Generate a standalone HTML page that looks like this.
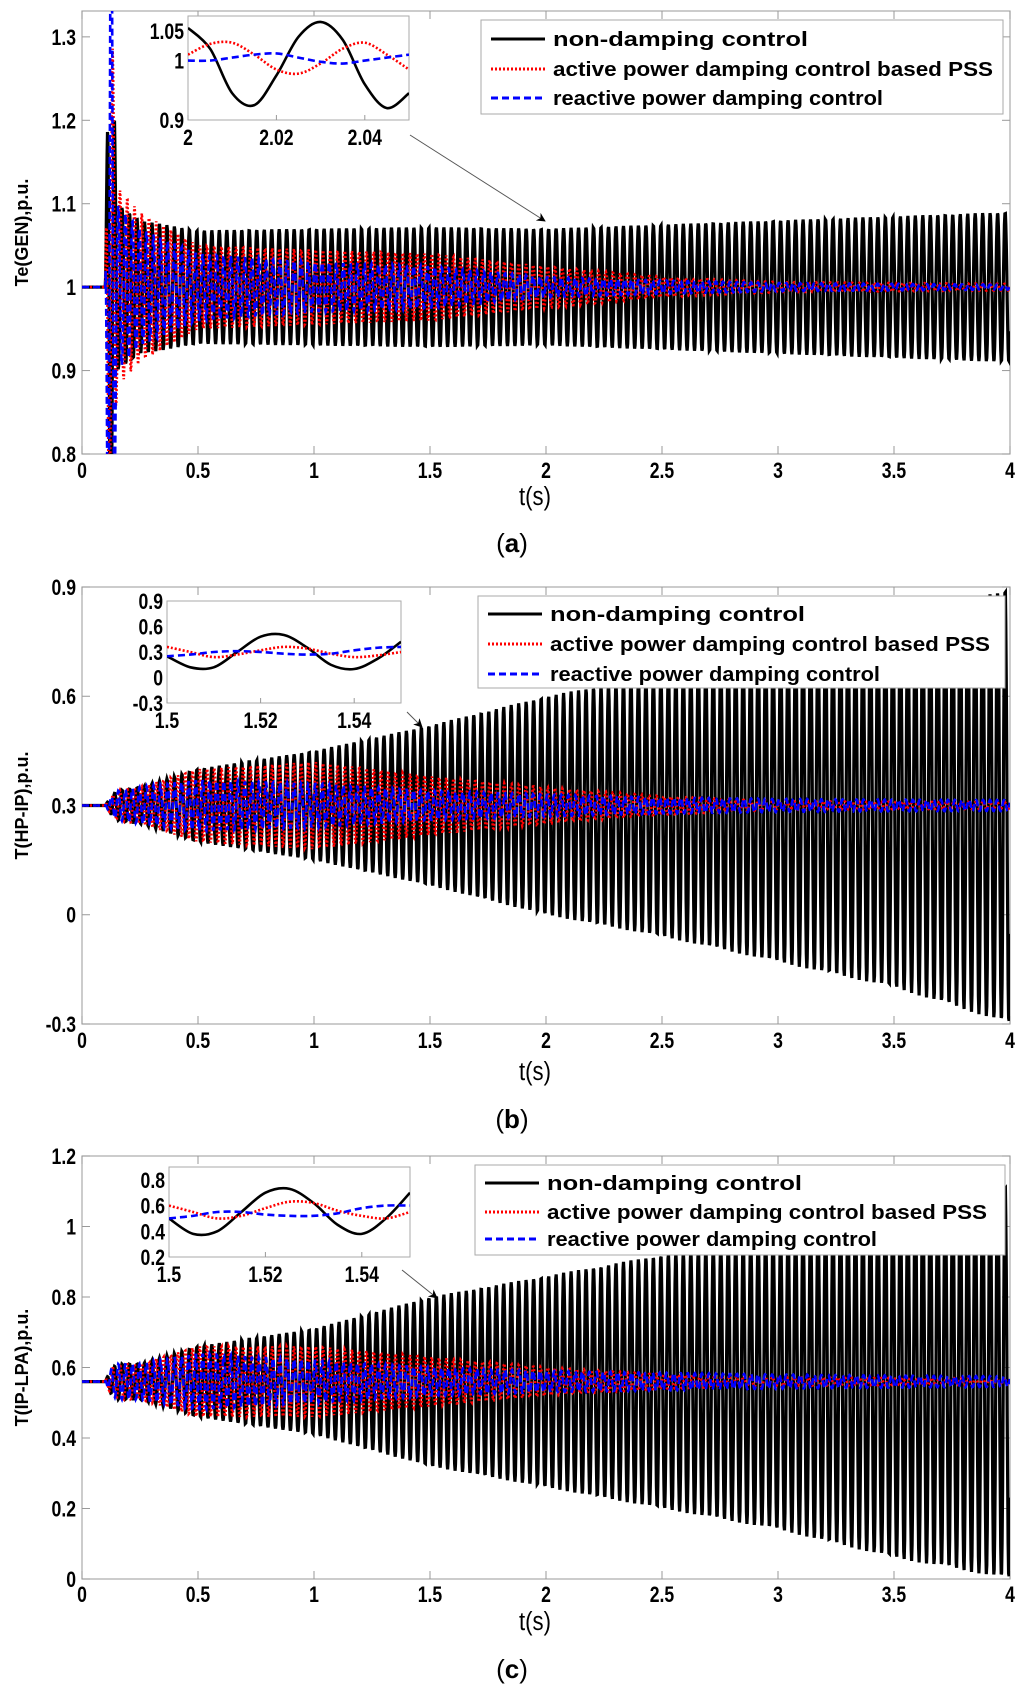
<!DOCTYPE html>
<html><head><meta charset="utf-8"><style>
body{margin:0;background:#fff}
svg{display:block}
text{font-family:"Liberation Sans",sans-serif}
</style></head><body>
<svg id="fig" width="1024" height="1699" viewBox="0 0 1024 1699" xmlns="http://www.w3.org/2000/svg"></svg>
<script>
// ---- data (envelope knots) ----
const knotT = [0, 0.1, 0.12, 0.15, 0.25, 0.5, 1, 1.5, 2, 2.5, 3, 3.5, 4];
const aBlackAmp = [0, 0, 0.4, 0.1, 0.08, 0.068, 0.07, 0.072, 0.07, 0.075, 0.08, 0.085, 0.09];
const aRedAmp   = [0, 0, 0.4, 0.12, 0.09, 0.05, 0.045, 0.04, 0.025, 0.012, 0.006, 0.005, 0.004];
const aBlueAmp  = [0, 0, 0.6, 0.1, 0.07, 0.04, 0.03, 0.025, 0.012, 0.008, 0.005, 0.004, 0.003];
const bBlackAmp = [0, 0, 0.02, 0.04, 0.05, 0.1, 0.15, 0.22, 0.3, 0.36, 0.43, 0.5, 0.6];
const bRedAmp   = [0, 0, 0.02, 0.04, 0.05, 0.1, 0.12, 0.08, 0.05, 0.025, 0.012, 0.01, 0.01];
const bBlueAmp  = [0, 0, 0.02, 0.04, 0.05, 0.07, 0.06, 0.04, 0.03, 0.022, 0.018, 0.016, 0.015];
const cBlackAmp = [0, 0, 0.03, 0.05, 0.05, 0.1, 0.15, 0.24, 0.3, 0.36, 0.42, 0.5, 0.56];
const cRedAmp   = [0, 0, 0.03, 0.05, 0.05, 0.1, 0.1, 0.07, 0.04, 0.02, 0.012, 0.01, 0.01];
const cBlueAmp  = [0, 0, 0.03, 0.05, 0.05, 0.08, 0.06, 0.04, 0.03, 0.025, 0.02, 0.017, 0.015];
const centers = [1.0, 0.3, 0.56];
const xTicks = [0, 0.5, 1, 1.5, 2, 2.5, 3, 3.5, 4];
const xTickLabels = ["0","0.5","1","1.5","2","2.5","3","3.5","4"];
const aYTicks = [0.8, 0.9, 1, 1.1, 1.2, 1.3];
const bYTicks = [-0.3, 0, 0.3, 0.6, 0.9];
const cYTicks = [0, 0.2, 0.4, 0.6, 0.8, 1, 1.2];
// insets: 11 samples each, step 0.005 s
const aInsetBlack = [1.055,1.02,0.945,0.925,0.975,1.04,1.065,1.035,0.96,0.92,0.945];
const aInsetRed   = [1.01,1.028,1.03,1.01,0.985,0.978,0.995,1.02,1.03,1.01,0.985];
const aInsetBlue  = [1.0,1.0,1.005,1.01,1.012,1.005,0.998,0.995,1.0,1.005,1.01];
const bInsetBlack = [0.25,0.12,0.12,0.3,0.48,0.5,0.35,0.15,0.1,0.22,0.42];
const bInsetRed   = [0.36,0.3,0.24,0.27,0.32,0.36,0.34,0.28,0.24,0.26,0.3];
const bInsetBlue  = [0.25,0.27,0.3,0.31,0.3,0.28,0.27,0.28,0.32,0.35,0.36];
const cInsetBlack = [0.5,0.38,0.4,0.55,0.7,0.73,0.62,0.45,0.38,0.5,0.7];
const cInsetRed   = [0.6,0.55,0.5,0.52,0.58,0.63,0.62,0.56,0.52,0.5,0.55];
const cInsetBlue  = [0.5,0.52,0.55,0.55,0.53,0.52,0.52,0.54,0.58,0.6,0.6];
const legendLabels = ["non-damping control","active power  damping control based  PSS","reactive power damping control"];

const NS="http://www.w3.org/2000/svg";
const svg=document.getElementById('fig');
function mk(tag,attrs,parent){const e=document.createElementNS(NS,tag);for(const k in attrs)e.setAttribute(k,attrs[k]);(parent||svg).appendChild(e);return e;}
function interp(arr,t){for(let i=0;i<knotT.length-1;i++){if(t<=knotT[i+1]){const f=(t-knotT[i])/(knotT[i+1]-knotT[i]);return arr[i]+(arr[i+1]-arr[i])*f;}}return arr[arr.length-1];}

const panels=[
 {id:'a',top:11,bot:454,ymin:0.8,ymax:1.331,yt:aYTicks,ylab:'Te(GEN),p.u.',amps:[aBlackAmp,aRedAmp,aBlueAmp],
  inset:{x0:188,x1:409,y0:16,y1:120,xmin:2,ymin:0.9,ymax:1.075,yt:[0.9,1,1.05],ytl:["0.9","1","1.05"],xtl:["2","2.02","2.04"],d:[aInsetBlack,aInsetRed,aInsetBlue]},
  leg:{x0:481,x1:1003,y0:20,y1:114,ys:[39,69,98]},arrow:[410,135,545,221],tickY:478,tsY:505,cap:'a',capY:552},
 {id:'b',top:587,bot:1024,ymin:-0.3,ymax:0.9,yt:bYTicks,ylab:'T(HP-IP),p.u.',amps:[bBlackAmp,bRedAmp,bBlueAmp],
  inset:{x0:167,x1:401,y0:601,y1:703,xmin:1.5,ymin:-0.3,ymax:0.9,yt:[-0.3,0,0.3,0.6,0.9],ytl:["-0.3","0","0.3","0.6","0.9"],xtl:["1.5","1.52","1.54"],d:[bInsetBlack,bInsetRed,bInsetBlue]},
  leg:{x0:478,x1:1005,y0:596,y1:688,ys:[614,644,674]},arrow:[407,712,422,727],tickY:1048,tsY:1080,cap:'b',capY:1128},
 {id:'c',top:1156,bot:1579,ymin:0,ymax:1.2,yt:cYTicks,ylab:'T(IP-LPA),p.u.',amps:[cBlackAmp,cRedAmp,cBlueAmp],
  inset:{x0:169,x1:410,y0:1167,y1:1257,xmin:1.5,ymin:0.2,ymax:0.9,yt:[0.2,0.4,0.6,0.8],ytl:["0.2","0.4","0.6","0.8"],xtl:["1.5","1.52","1.54"],d:[cInsetBlack,cInsetRed,cInsetBlue]},
  leg:{x0:475,x1:1005,y0:1165,y1:1255,ys:[1183,1212,1239]},arrow:[402,1270,437,1298],tickY:1602,tsY:1630,cap:'c',capY:1678}
];
const X0=82,X1=1010;
const colors=['#000','#f00','#00f'];
const dashes=['none','2,2','7,4'];
const widths=[3.2,2.6,2.6];
const freq=[31,32,33],phase=[0,1.3,2.4];
const defs=mk('defs',{});
mk('marker',{id:'ah',viewBox:'0 0 10 10',refX:9,refY:5,markerWidth:9,markerHeight:9,orient:'auto'},defs).appendChild((()=>{const p=document.createElementNS(NS,'path');p.setAttribute('d','M0,0 L10,5 L0,10 L3,5 z');return p;})());

panels.forEach((P,pi)=>{
  const g=mk('g',{});
  
  
  const xs=t=>X0+(t/4)*(X1-X0);
  const ys=v=>P.bot-(v-P.ymin)/(P.ymax-P.ymin)*(P.bot-P.top);
  const cp=mk('clipPath',{id:'clip'+P.id},defs);
  mk('rect',{x:X0,y:P.top,width:X1-X0,height:P.bot-P.top},cp);
  const ax=mk('rect',{x:X0,y:P.top,width:X1-X0,height:P.bot-P.top,fill:'none',stroke:'#aaa','stroke-width':1.2},g);
  
  
  xTicks.forEach((t,i)=>{
    mk('line',{x1:xs(t),x2:xs(t),y1:P.bot,y2:P.bot-8,stroke:'#999'},g);
    mk('line',{x1:xs(t),x2:xs(t),y1:P.top,y2:P.top+8,stroke:'#999'},g);
    const tx=mk('text',{x:xs(t),y:P.tickY,'text-anchor':'middle','font-size':22,'font-weight':'bold',transform:`translate(${xs(t)},0) scale(0.8,1) translate(${-xs(t)},0)`},g);
    tx.textContent=xTickLabels[i];
    
    
  });
  P.yt.forEach(v=>{
    mk('line',{x1:X0,x2:X0+8,y1:ys(v),y2:ys(v),stroke:'#999'},g);
    mk('line',{x1:X1,x2:X1-8,y1:ys(v),y2:ys(v),stroke:'#999'},g);
    const tx=mk('text',{x:X0-6,y:ys(v)+8,'text-anchor':'end','font-size':22,'font-weight':'bold',transform:`translate(${X0-6},0) scale(0.8,1) translate(${-(X0-6)},0)`},g);
    tx.textContent=String(v);
    
    
  });
  const yl=mk('text',{x:0,y:0,'text-anchor':'middle','font-size':18,'font-weight':'bold',transform:`translate(28,${(P.top+P.bot)/2}) rotate(-90)`},g);
  yl.textContent=P.ylab;
  
  
  const xl=mk('text',{x:535,y:P.tsY,'text-anchor':'middle','font-size':26,'font-family':'Liberation Serif',transform:`translate(535,0) scale(0.85,1) translate(-535,0)`},g);
  xl.textContent='t(s)';
  
  
  const cap=mk('text',{x:512,y:P.capY,'text-anchor':'middle','font-size':26,'font-family':'Liberation Serif'},g);
  cap.innerHTML='(<tspan font-weight="bold">'+P.cap+'</tspan>)';
  
  
  const sg=mk('g',{'clip-path':`url(#clip${P.id})`},g);
  [0,1,2].forEach(s=>{
    let pts=[];
    for(let t=0;t<=4.0001;t+=0.002){
      const a=interp(P.amps[s],t);
      const v=centers[pi]+a*Math.sin(2*Math.PI*freq[s]*(t-0.1)+phase[s]);
      pts.push(xs(t).toFixed(1)+','+ys(v).toFixed(1));
    }
    const pl=mk('polyline',{points:pts.join(' '),fill:'none',stroke:colors[s],'stroke-width':widths[s],'stroke-dasharray':dashes[s]},sg);
    
    
  });
  const I=P.inset;
  const ig=mk('g',{},g);
  
  
  mk('rect',{x:I.x0,y:I.y0,width:I.x1-I.x0,height:I.y1-I.y0,fill:'#fff',stroke:'#aaa'},ig);
  const ixs=t=>I.x0+(t-I.xmin)/0.05*(I.x1-I.x0);
  const iys=v=>I.y1-(v-I.ymin)/(I.ymax-I.ymin)*(I.y1-I.y0);
  I.xtl.forEach((l,i)=>{
    const x=ixs(I.xmin+0.02*i);
    mk('line',{x1:x,x2:x,y1:I.y1,y2:I.y1-5,stroke:'#999'},ig);
    const tx=mk('text',{x:x,y:I.y1+25,'text-anchor':'middle','font-size':22,'font-weight':'bold',transform:`translate(${x},0) scale(0.8,1) translate(${-x},0)`},ig);
    tx.textContent=l;
    
    
  });
  I.yt.forEach((v,i)=>{
    const y=iys(v);
    const tx=mk('text',{x:I.x0-4,y:y+8,'text-anchor':'end','font-size':22,'font-weight':'bold',transform:`translate(${I.x0-4},0) scale(0.8,1) translate(${-(I.x0-4)},0)`},ig);
    tx.textContent=I.ytl[i];
    
    
  });
  const icp=mk('clipPath',{id:'iclip'+P.id},defs);
  mk('rect',{x:I.x0,y:I.y0,width:I.x1-I.x0,height:I.y1-I.y0},icp);
  const isg=mk('g',{'clip-path':`url(#iclip${P.id})`},ig);
  [0,1,2].forEach(s=>{
    const arr=I.d[s];let d='';
    for(let i=0;i<arr.length;i++){
      const x=ixs(I.xmin+0.005*i),y=iys(arr[i]);
      if(i===0){d+=`M${x},${y}`;continue;}
      const p0=[ixs(I.xmin+0.005*Math.max(i-2,0)),iys(arr[Math.max(i-2,0)])];
      const p1=[ixs(I.xmin+0.005*(i-1)),iys(arr[i-1])];
      const p3=[ixs(I.xmin+0.005*Math.min(i+1,arr.length-1)),iys(arr[Math.min(i+1,arr.length-1)])];
      const c1=[p1[0]+(x-p0[0])/6,p1[1]+(y-p0[1])/6],c2=[x-(p3[0]-p1[0])/6,y-(p3[1]-p1[1])/6];
      d+=` C${c1[0]},${c1[1]} ${c2[0]},${c2[1]} ${x},${y}`;
    }
    const pa=mk('path',{d:d,fill:'none',stroke:colors[s],'stroke-width':2.6,'stroke-dasharray':dashes[s]},isg);
    
    
  });
  const ar=mk('line',{x1:P.arrow[0],y1:P.arrow[1],x2:P.arrow[2],y2:P.arrow[3],stroke:'#555','stroke-width':1,'marker-end':'url(#ah)'},g);
  
  
  const L=P.leg;
  const lg=mk('g',{},g);
  
  
  mk('rect',{x:L.x0,y:L.y0,width:L.x1-L.x0,height:L.y1-L.y0,fill:'#fff',stroke:'#aaa'},lg);
  legendLabels.forEach((lab,i)=>{
    const e=mk('g',{},lg);
    
    
    mk('line',{x1:L.x0+10,x2:L.x0+64,y1:L.ys[i],y2:L.ys[i],stroke:colors[i],'stroke-width':3,'stroke-dasharray':dashes[i]},e);
    const tx=mk('text',{x:L.x0+72,y:L.ys[i]+7,'font-size':20,'font-weight':'bold',textLength:[255,440,330][i],lengthAdjust:'spacingAndGlyphs'},e);
    tx.textContent=lab;
  });
});
</script>
</body></html>
